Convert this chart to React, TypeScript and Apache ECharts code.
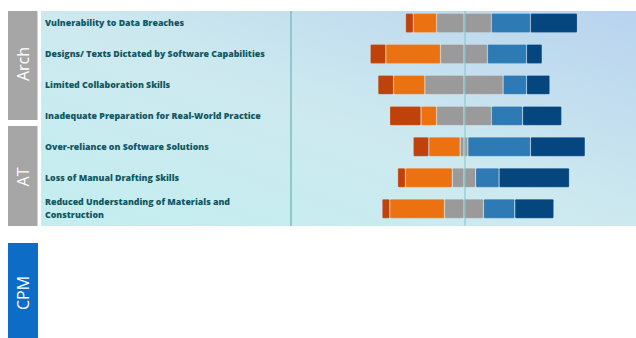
import React, { useEffect, useRef } from "react";
import * as echarts from "echarts";

const categories = [
  "Vulnerability to Data Breaches",
  "Designs/ Texts Dictated by Software Capabilities",
  "Limited Collaboration Skills",
  "Inadequate Preparation for Real-World Practice",
  "Over-reliance on Software Solutions",
  "Loss of Manual Drafting Skills",
  "Reduced Understanding of Materials and Construction",
];
const groups = ["Arch", "AT", "CPM"];
const stronglyDisagree = [4.5, 9.1, 9.1, 18.2, 9.1, 4.5, 4.5];
const disagree = [13.6, 31.8, 18.2, 9.1, 18.2, 27.3, 31.8];
const neutral = [31.8, 27.3, 45.5, 31.8, 4.5, 13.6, 22.7];
const agree = [22.7, 22.7, 13.6, 18.2, 36.4, 13.6, 18.2];
const stronglyAgree = [27.3, 9.1, 13.6, 22.7, 31.8, 40.9, 22.7];

export default function App() {
  const ref = useRef<HTMLDivElement>(null);
  useEffect(() => {
    const chart = echarts.init(ref.current!, null, { renderer: "svg" });
    const half = neutral.map((v) => v / 2);
    const seg = (name: string, data: number[], color: string) => ({
      type: "bar",
      name,
      stack: "likert",
      data,
      barWidth: 19.5,
      silent: true,
      itemStyle: {
        color,
        borderRadius: 1,
        borderColor: "rgba(255,255,255,0.3)",
        borderWidth: 0.6,
      },
    });
    const tabText = (text: string, x: number, y: number) => ({
      type: "text",
      x,
      y,
      rotation: Math.PI / 2,
      z: 5,
      style: {
        text,
        fill: "#ffffff",
        font: "16px 'Open Sans'",
        align: "center",
        verticalAlign: "middle",
      },
    });
    chart.setOption({
      animation: false,
      grid: { left: 292, width: 346, top: 7.5, height: 216.7 },
      xAxis: { type: "value", min: -100, max: 100, show: false },
      yAxis: {
        type: "category",
        data: categories,
        inverse: true,
        axisLine: { show: false },
        axisTick: { show: false },
        splitLine: { show: false },
        axisLabel: {
          align: "left",
          margin: 247,
          fontFamily: "'Open Sans'",
          fontWeight: 800,
          fontSize: 8.8,
          lineHeight: 13,
          color: "#125864",
          formatter: (v: string) => v.replace("Materials and ", "Materials and\n"),
        },
      },
      graphic: [
        {
          type: "rect",
          z: -10,
          shape: { x: 41, y: 11, width: 595, height: 215 },
          style: {
            fill: new echarts.graphic.LinearGradient(0, 1, 1, 0, [
              { offset: 0, color: "#c3eeef" },
              { offset: 0.5, color: "#cde9ef" },
              { offset: 1, color: "#b8d3ee" },
            ]),
          },
        },
        { type: "rect", z: 1, shape: { x: 8, y: 11, width: 29.5, height: 109 }, style: { fill: "#a6a6a6" } },
        { type: "rect", z: 1, shape: { x: 8, y: 126, width: 29.5, height: 100 }, style: { fill: "#a6a6a6" } },
        { type: "rect", z: 1, shape: { x: 8, y: 243, width: 30, height: 95 }, style: { fill: "#0d6dc6" } },
        tabText(groups[0], 22.5, 64),
        tabText(groups[1], 22.5, 177),
        tabText(groups[2], 23, 293),
        {
          type: "line",
          z: 1,
          shape: { x1: 291, y1: 11, x2: 291, y2: 226 },
          style: { stroke: "#8ccacd", lineWidth: 2 },
        },
        {
          type: "line",
          z: 100,
          shape: { x1: 465, y1: 11, x2: 465, y2: 226 },
          style: { stroke: "#86c3c6", lineWidth: 1 },
        },
      ],
      series: [
        seg("Neutral (left)", half.map((v) => -v), "#9a9a9a"),
        seg("Disagree", disagree.map((v) => -v), "#ec7211"),
        seg("Strongly disagree", stronglyDisagree.map((v) => -v), "#c0420b"),
        seg("Neutral (right)", half, "#9a9a9a"),
        seg("Agree", agree, "#2e7ab4"),
        seg("Strongly agree", stronglyAgree, "#05467f"),
      ],
    });
    return () => chart.dispose();
  }, []);
  return (
    <div
      ref={ref}
      style={{ position: "fixed", left: 0, top: 0, width: 636, height: 338, background: "#ffffff" }}
    />
  );
}
